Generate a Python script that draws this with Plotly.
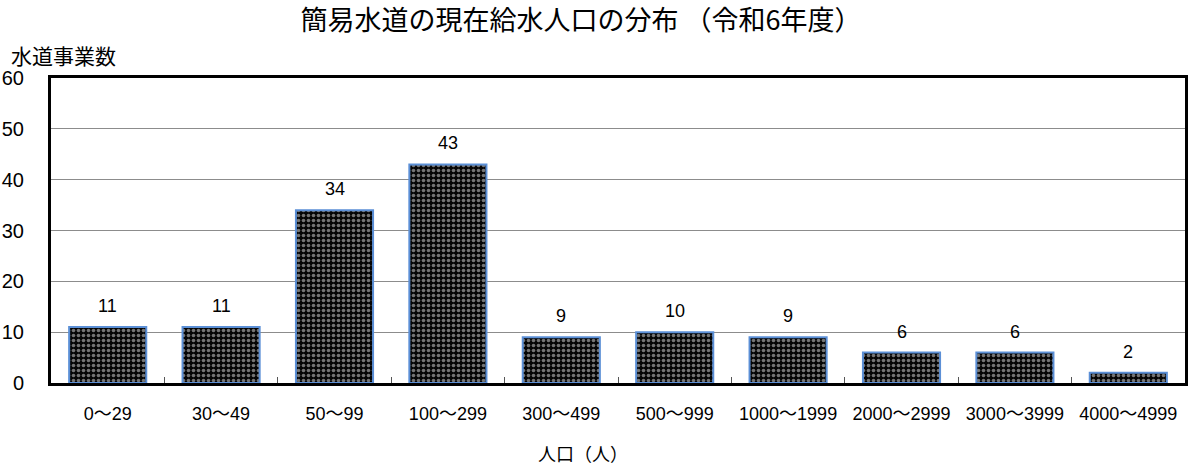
import plotly.graph_objects as go

categories = ["0～29", "30～49", "50～99", "100～299", "300～499", "500～999",
              "1000～1999", "2000～2999", "3000～3999", "4000～4999"]
counts = [11, 11, 34, 43, 9, 10, 9, 6, 6, 2]
y_ticks = [0, 10, 20, 30, 40, 50, 60]

title_text = "簡易水道の現在給水人口の分布 （令和6年度）"
y_title = "水道事業数"
x_title = "人口（人）"

FONT = "Liberation Sans, Arial, Noto Sans CJK JP, sans-serif"
JP = "Noto Sans CJK JP, sans-serif"

L, R, T, B = 51, 5, 78, 83
PW = 1190 - L - R
PH = 466 - T - B

fig = go.Figure()
fig.add_trace(go.Bar(
    x=categories, y=counts, width=0.68,
    marker=dict(
        color="black",
        line=dict(color="#5b8fd6", width=2),
        pattern=dict(shape=".", fgcolor="#e6e6e6", bgcolor="#050505", size=5, solidity=0.4),
    ),
    hoverinfo="skip",
))
for c, v in zip(categories, counts):
    fig.add_annotation(x=c, y=v, text=str(v), showarrow=False, yshift=21,
                       font=dict(size=18, color="black", family=FONT))

fig.update_layout(
    width=1190, height=466,
    margin=dict(l=L, r=R, t=T, b=B),
    paper_bgcolor="white", plot_bgcolor="white",
    showlegend=False,
    font=dict(family=FONT, color="black"),
    title=dict(text=title_text, x=(581 / 1190), xanchor="center", y=1 - 21 / 466, yanchor="middle",
               font=dict(size=27, family=JP, color="black")),
)
fig.add_annotation(text=y_title, xref="paper", yref="paper", x=(9 - L) / PW, y=1 + 23 / PH,
                   xanchor="left", yanchor="middle", showarrow=False,
                   font=dict(size=21, family=JP, color="black"))
fig.add_annotation(text=x_title, xref="paper", yref="paper", x=(583 - L) / PW, y=-70 / PH,
                   xanchor="center", yanchor="middle", showarrow=False,
                   font=dict(size=18, family=JP, color="black"))

fig.update_xaxes(
    type="category", showline=True, linecolor="black", linewidth=3, mirror=True,
    ticks="inside", tickson="boundaries", ticklen=6, tickcolor="#555", tickwidth=1,
    tickfont=dict(size=18, family=FONT, color="black"), ticklabelstandoff=12,
    showgrid=False, fixedrange=True, automargin=False,
)
fig.update_yaxes(
    range=[0, 60], tickvals=y_ticks, showline=True, linecolor="black", linewidth=3, mirror=True,
    ticks="", ticklabelstandoff=20,
    showgrid=True, gridcolor="#8c8c8c", gridwidth=1,
    tickfont=dict(size=20, family=FONT, color="black"),
    zeroline=False, fixedrange=True, automargin=False,
)

fig.write_html("out.html", config={"displayModeBar": False},
               post_script="document.body.style.margin='0';document.body.style.overflow='hidden';")
